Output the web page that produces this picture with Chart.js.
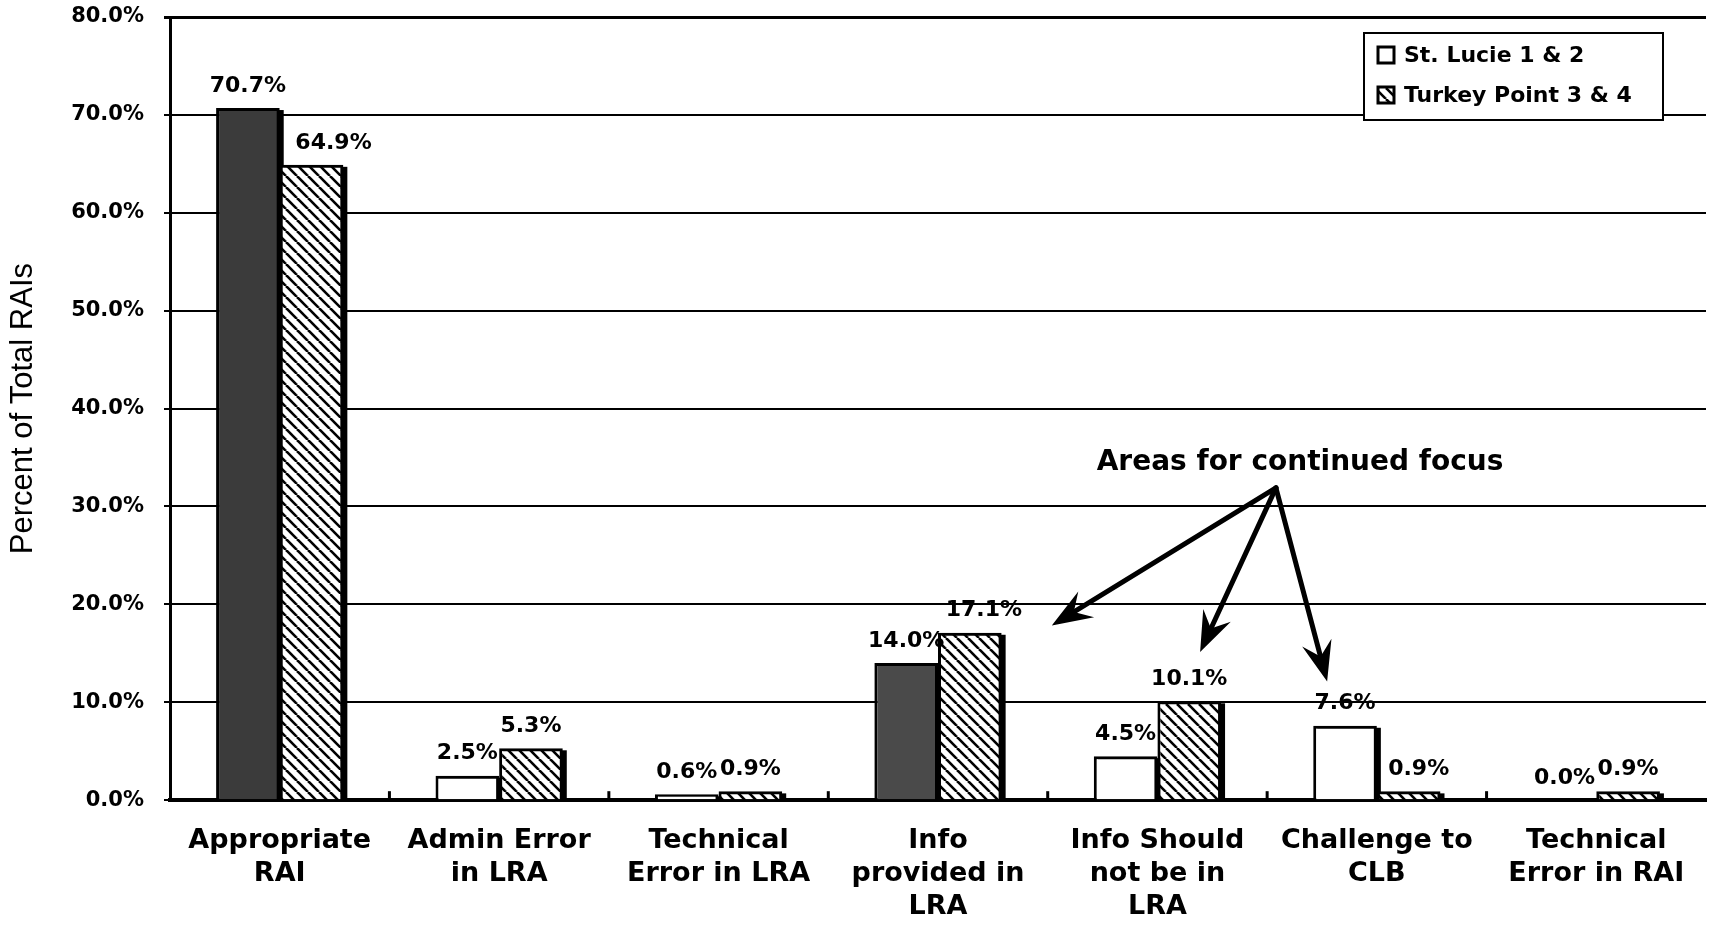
<!DOCTYPE html>
<html>
<head>
<meta charset="utf-8">
<script src="https://cdn.jsdelivr.net/npm/chart.js@4.4.1/dist/chart.umd.min.js"></script>
<style>
  html, body { margin: 0; padding: 0; background: #fff; }
  #wrap { width: 1709px; height: 950px; }
</style>
</head>
<body>
<div id="wrap"><canvas id="myChartCanvas" width="1709" height="950"></canvas></div>
<script>
// categories and values
let categoryLabels = [
    ['Appropriate', 'RAI'],
    ['Admin Error', 'in LRA'],
    ['Technical', 'Error in LRA'],
    ['Info', 'provided in', 'LRA'],
    ['Info Should', 'not be in', 'LRA'],
    ['Challenge to', 'CLB'],
    ['Technical', 'Error in RAI']
];
let stLucieValues = [70.7, 2.5, 0.6, 14.0, 4.5, 7.6, 0.0];
let turkeyPointValues = [64.9, 5.3, 0.9, 17.1, 10.1, 0.9, 0.9];
let seriesNames = ['St. Lucie 1 & 2', 'Turkey Point 3 & 4'];
let yMin = 0, yMax = 80, yStep = 10;

let focusText = 'Areas for continued focus';

const boldFont = '"DejaVu Sans", sans-serif';

// fill of the St. Lucie bars (the scan shows dark stipple on two of them)
let stLucieColors = ['#3b3b3b', '#ffffff', '#ffffff', '#4a4a4a', '#ffffff', '#ffffff', '#ffffff'];
// label nudges (px) where the original moved a label off the bar centre
let turkeyLabelShift = [22, 0, 0, 14, 0, 10, 0];

function makeHatch() {
    let s = 11;
    let c = document.createElement('canvas');
    c.width = s; c.height = s;
    let g = c.getContext('2d');
    g.fillStyle = '#fff';
    g.fillRect(0, 0, s, s);
    g.strokeStyle = '#000';
    g.lineWidth = 2.6;
    for (let k = -s; k <= s; k += s) {
        g.beginPath();
        g.moveTo(k, 0);
        g.lineTo(k + s, s);
        g.stroke();
    }
    return g.createPattern(c, 'repeat');
}

let ctx = document.getElementById('myChartCanvas').getContext('2d');
let hatch = makeHatch();

// shadow on the right of each bar
const barShadow = {
    id: 'barShadow',
    beforeDatasetsDraw(chart) {
        let c = chart.ctx;
        c.save();
        c.fillStyle = '#000';
        chart.data.datasets.forEach((ds, i) => {
            chart.getDatasetMeta(i).data.forEach(bar => {
                let h = bar.base - bar.y;
                if (h <= 0.5) return;
                c.fillRect(bar.x - bar.width / 2 + 4, bar.y + 2, bar.width, h - 2);
            });
        });
        c.restore();
    }
};

// value labels above bars
const valueLabels = {
    id: 'valueLabels',
    afterDatasetsDraw(chart) {
        let c = chart.ctx;
        c.save();
        c.font = 'bold 22px ' + boldFont;
        c.fillStyle = '#000';
        c.textAlign = 'center';
        c.textBaseline = 'bottom';
        chart.data.datasets.forEach((ds, i) => {
            chart.getDatasetMeta(i).data.forEach((bar, j) => {
                let dx = i === 1 ? turkeyLabelShift[j] : 0;
                c.fillText(ds.data[j].toFixed(1) + '%', bar.x + dx, bar.y - 11);
            });
        });
        c.restore();
    }
};

// small inward ticks between categories
const innerTicks = {
    id: 'innerTicks',
    afterDraw(chart) {
        let c = chart.ctx;
        let x = chart.scales.x;
        let area = chart.chartArea;
        c.save();
        c.strokeStyle = '#000';
        c.lineWidth = 3;
        for (let i = 0; i < categoryLabels.length - 1; i++) {
            let px = x.getPixelForValue(i + 0.5);
            c.beginPath();
            c.moveTo(px, area.bottom);
            c.lineTo(px, area.bottom - 9);
            c.stroke();
        }
        c.restore();
    }
};

// legend box inside the plot, top right
const boxLegend = {
    id: 'boxLegend',
    afterDraw(chart) {
        let c = chart.ctx;
        let area = chart.chartArea;
        let w = 299, h = 87;
        let left = area.right - 43 - w;
        let top = area.top + 16;
        c.save();
        c.fillStyle = '#fff';
        c.fillRect(left, top, w, h);
        c.strokeStyle = '#000';
        c.lineWidth = 2;
        c.strokeRect(left, top, w, h);
        c.font = 'bold 22px ' + boldFont;
        c.textBaseline = 'middle';
        c.textAlign = 'left';
        let rows = [top + 22, top + 62];
        seriesNames.forEach((name, i) => {
            let y = rows[i];
            c.fillStyle = i === 0 ? '#fff' : hatch;
            c.fillRect(left + 14, y - 8, 16, 16);
            c.lineWidth = 3;
            c.strokeStyle = '#000';
            c.strokeRect(left + 14, y - 8, 16, 16);
            c.fillStyle = '#000';
            c.fillText(name, left + 40, y + 1);
        });
        c.restore();
    }
};

// "Areas for continued focus" note with arrows, placed in data units
let noteAt = [4.65, 34.5];
let arrowFrom = [4.54, 31.9];
let arrowTo = [[3.53, 18.0], [4.2, 15.4], [4.77, 12.4]];

const focusNote = {
    id: 'focusNote',
    afterDraw(chart) {
        let c = chart.ctx;
        let xs = chart.scales.x, ys = chart.scales.y;
        c.save();
        c.fillStyle = '#000';
        c.font = 'bold 28px ' + boldFont;
        c.textAlign = 'center';
        c.textBaseline = 'middle';
        c.fillText(focusText, xs.getPixelForValue(noteAt[0]), ys.getPixelForValue(noteAt[1]));

        let x0 = xs.getPixelForValue(arrowFrom[0]);
        let y0 = ys.getPixelForValue(arrowFrom[1]);
        c.strokeStyle = '#000';
        c.lineWidth = 5;
        c.lineCap = 'round';
        c.lineJoin = 'miter';
        arrowTo.forEach(t => {
            let x1 = xs.getPixelForValue(t[0]);
            let y1 = ys.getPixelForValue(t[1]);
            let a = Math.atan2(y1 - y0, x1 - x0);
            let len = 36, spread = 0.36;
            let nx = x1 - len * 0.6 * Math.cos(a), ny = y1 - len * 0.6 * Math.sin(a);
            c.beginPath();
            c.moveTo(x0, y0);
            c.lineTo(nx, ny);
            c.stroke();
            c.beginPath();
            c.moveTo(x1, y1);
            c.lineTo(x1 - len * Math.cos(a - spread), y1 - len * Math.sin(a - spread));
            c.lineTo(nx, ny);
            c.lineTo(x1 - len * Math.cos(a + spread), y1 - len * Math.sin(a + spread));
            c.closePath();
            c.fill();
            c.lineWidth = 2;
            c.stroke();
            c.lineWidth = 5;
        });
        c.restore();
    }
};

let chart = new Chart(ctx, {
    type: 'bar',
    data: {
        labels: categoryLabels,
        datasets: [{
            label: seriesNames[0],
            data: stLucieValues,
            backgroundColor: stLucieColors,
            borderColor: '#000',
            borderWidth: 3,
            categoryPercentage: 0.58,
            barPercentage: 1.0
        }, {
            label: seriesNames[1],
            data: turkeyPointValues,
            backgroundColor: hatch,
            borderColor: '#000',
            borderWidth: 3,
            categoryPercentage: 0.58,
            barPercentage: 1.0
        }]
    },
    options: {
        responsive: false,
        animation: false,
        devicePixelRatio: 1,
        layout: {
            padding: { top: 17, right: 3, bottom: 11, left: 0 }
        },
        plugins: {
            legend: { display: false },
            tooltip: { enabled: false }
        },
        scales: {
            x: {
                grid: { display: false },
                border: { display: true, color: '#000', width: 4 },
                ticks: {
                    color: '#000',
                    padding: 16,
                    maxRotation: 0,
                    autoSkip: false,
                    font: { family: boldFont, size: 27, weight: 'bold', lineHeight: 1.22 }
                }
            },
            y: {
                min: yMin,
                max: yMax,
                afterFit(scale) {
                    scale.width = 170;
                    scale.paddingTop = 0;
                    scale.paddingBottom = 0;
                },
                ticks: {
                    stepSize: yStep,
                    color: '#000',
                    padding: 20,
                    font: { family: boldFont, size: 21, weight: 'bold' },
                    callback: v => v.toFixed(1) + '%'
                },
                grid: {
                    color: '#000',
                    lineWidth: c => (c.tick && c.tick.value === yMax) ? 3 : 2,
                    tickLength: 6
                },
                border: { display: true, color: '#000', width: 3 },
                title: {
                    display: true,
                    text: 'Percent of Total RAIs',
                    color: '#000',
                    padding: { top: 5, bottom: 0 },
                    font: { family: '"Liberation Sans", Arial, sans-serif', size: 31, weight: 'normal', lineHeight: 1.2 }
                }
            }
        }
    },
    plugins: [barShadow, valueLabels, innerTicks, boxLegend, focusNote]
});
</script>
</body>
</html>
